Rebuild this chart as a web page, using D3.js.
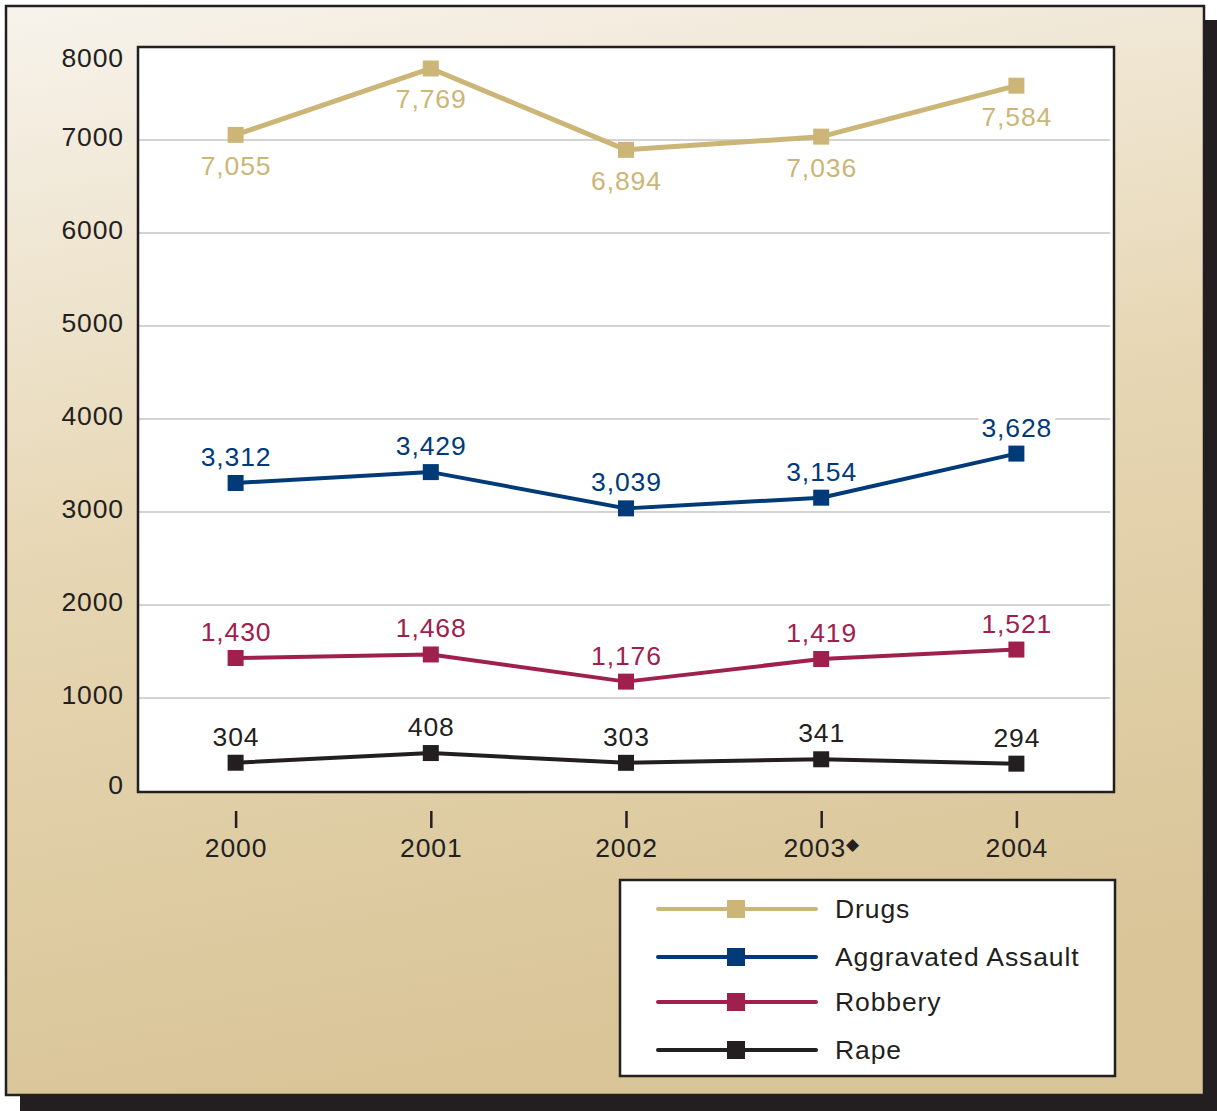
<!DOCTYPE html>
<html>
<head>
<meta charset="utf-8">
<script src="https://cdn.jsdelivr.net/npm/d3@7/dist/d3.min.js"></script>
<style>
html,body{margin:0;padding:0;background:#fff;}
svg{display:block;font-family:"Liberation Sans",Arial,Helvetica,sans-serif;}
</style>
</head>
<body>
<svg id="chart" width="1217" height="1111"></svg>
<script>
const years = ["2000","2001","2002","2003","2004"];
const yearNotes = ["","","","◆",""];
const seriesNames = ["Drugs","Aggravated Assault","Robbery","Rape"];
const seriesColors = ["#cbb677","#003a78","#a0204d","#231f20"];
const drugs = [7055,7769,6894,7036,7584];
const assault = [3312,3429,3039,3154,3628];
const robbery = [1430,1468,1176,1419,1521];
const rape = [304,408,303,341,294];
const yTicks = [0,1000,2000,3000,4000,5000,6000,7000,8000];
const labelBelow = [true,false,false,false];

const seriesValues = [drugs, assault, robbery, rape];
const svg = d3.select("#chart");
const FS = 26.5, LS = 0.9;

// background frame with drop shadow
const defs = svg.append("defs");
const grad = defs.append("linearGradient").attr("id","bg").attr("x1","0").attr("y1","0").attr("x2","0.2").attr("y2","1");
grad.append("stop").attr("offset","0").attr("stop-color","#f7f3ec");
grad.append("stop").attr("offset","0.5").attr("stop-color","#e6d6b3");
grad.append("stop").attr("offset","1").attr("stop-color","#d9c598");

svg.append("rect").attr("x",20).attr("y",20).attr("width",1197).attr("height",1091).attr("fill","#231f20");
svg.append("rect").attr("x",6).attr("y",6).attr("width",1198).attr("height",1089)
  .attr("fill","url(#bg)").attr("stroke","#231f20").attr("stroke-width",2.5);

const plot = {left:138, top:47, right:1114, bottom:792};
const x = d3.scalePoint().domain(years).range([plot.left, plot.right]).padding(0.5);
const y = d3.scaleLinear().domain([0,8000]).range([plot.bottom-1, plot.top]);

// plot area
svg.append("rect").attr("x",plot.left).attr("y",plot.top)
  .attr("width",plot.right-plot.left).attr("height",plot.bottom-plot.top).attr("fill","#fff");

// gridlines
svg.append("g").selectAll("line").data(yTicks.filter(d=>d>0 && d<8000)).join("line")
  .attr("x1",plot.left).attr("x2",plot.right-4)
  .attr("y1",d=>y(d)).attr("y2",d=>y(d))
  .attr("stroke","#d3d3d3").attr("stroke-width",2);

// y axis labels
const yAxis = d3.axisLeft(y).tickValues(yTicks).tickSize(0).tickPadding(14).tickFormat(d3.format("d"));
const gy = svg.append("g").attr("transform",`translate(${plot.left},0)`).call(yAxis);
gy.select(".domain").remove();
gy.selectAll("text").attr("font-size",FS).attr("fill","#231f20").attr("letter-spacing",LS)
  .attr("font-family","'Liberation Sans',Arial,sans-serif")
  .attr("dy",d=> d===8000 ? "0.75em" : (d===0 ? "0.08em" : "0.22em"));

// x axis
const xAxis = d3.axisBottom(x).tickSize(0).tickFormat(d=>d);
const gx = svg.append("g").attr("transform",`translate(0,${plot.bottom+19})`).call(xAxis);
gx.select(".domain").remove();
gx.selectAll(".tick").append("line").attr("y1",0).attr("y2",17).attr("stroke","#231f20").attr("stroke-width",2.5);
gx.selectAll("text").remove();
gx.selectAll(".tick").append("text")
  .attr("y",46).attr("text-anchor","middle").attr("font-size",FS).attr("letter-spacing",LS).attr("fill","#231f20")
  .each(function(d,i){
    const t = d3.select(this);
    t.append("tspan").text(d);
    if (yearNotes[i]) t.append("tspan").attr("font-size",17).attr("dy",-7).attr("dx",0).text(yearNotes[i]);
  });

// plot border
svg.append("rect").attr("x",plot.left).attr("y",plot.top)
  .attr("width",plot.right-plot.left).attr("height",plot.bottom-plot.top)
  .attr("fill","none").attr("stroke","#231f20").attr("stroke-width",2.5);

const fmt = d3.format(",");
const labelLayerBg = svg.append("g");
const lineLayer = svg.append("g");
const labelLayer = svg.append("g");

seriesValues.forEach((vals, si) => {
  const color = seriesColors[si];
  const pts = vals.map((v,i)=>({year:years[i], v}));
  const line = d3.line().x(d=>x(d.year)).y(d=>y(d.v));
  lineLayer.append("path").datum(pts).attr("d",line).attr("fill","none")
    .attr("stroke",color).attr("stroke-width",si===0?5:4).attr("stroke-linejoin","round");
  lineLayer.append("g").selectAll("rect").data(pts).join("rect")
    .attr("x",d=>x(d.year)-8).attr("y",d=>y(d.v)-8).attr("width",16).attr("height",16).attr("fill",color);
  pts.forEach(d=>{
    const ty = labelBelow[si] ? y(d.v)+40 : y(d.v)-17;
    const t = labelLayer.append("text").attr("x",x(d.year)+LS/2).attr("y",ty)
      .attr("text-anchor","middle").attr("font-size",FS).attr("letter-spacing",LS).attr("fill",color).text(fmt(d.v));
    const bb = t.node().getBBox();
    labelLayerBg.append("rect").attr("x",bb.x-3).attr("y",bb.y+3).attr("width",bb.width+6).attr("height",bb.height-6).attr("fill","#fff");
  });
});

// legend
const lg = svg.append("g");
lg.append("rect").attr("x",620).attr("y",880).attr("width",495).attr("height",196)
  .attr("fill","#fff").attr("stroke","#231f20").attr("stroke-width",2.5);
const legY = [909,957,1002,1050];
seriesNames.forEach((name,i)=>{
  lg.append("line").attr("x1",658).attr("x2",816).attr("y1",legY[i]).attr("y2",legY[i])
    .attr("stroke",seriesColors[i]).attr("stroke-width",4).attr("stroke-linecap","round");
  lg.append("rect").attr("x",727).attr("y",legY[i]-9).attr("width",18).attr("height",18).attr("fill",seriesColors[i]);
  lg.append("text").attr("x",835).attr("y",legY[i]+9).attr("font-size",FS).attr("letter-spacing",LS).attr("fill","#231f20").text(name);
});
</script>
</body>
</html>
